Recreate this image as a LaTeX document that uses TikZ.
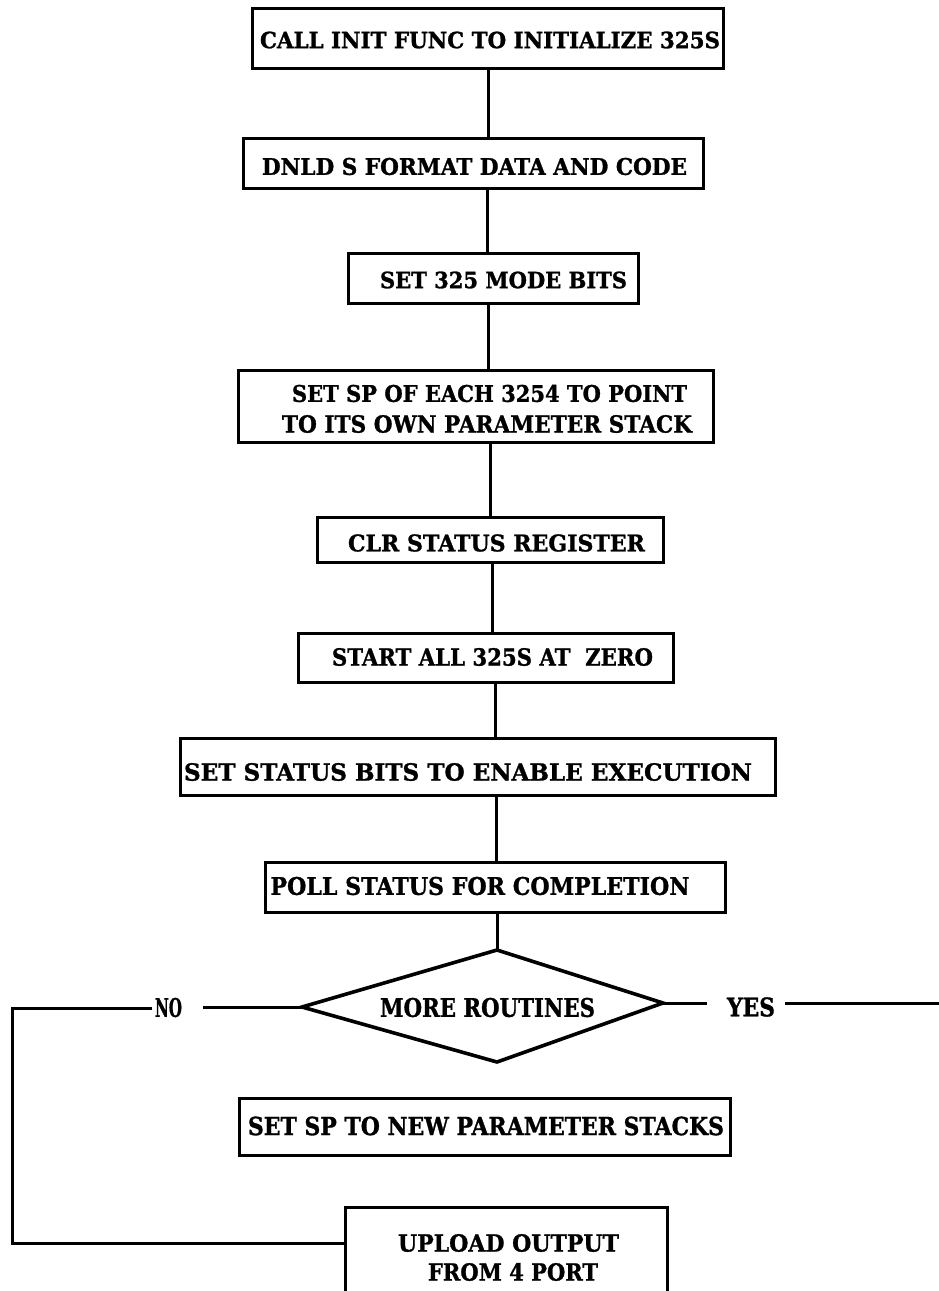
\documentclass[tikz,border=0pt]{standalone}
\usepackage{fontspec}
\usepackage{graphicx}
\setmainfont{DejaVu Serif}
\newfontfamily\heavy{DejaVu Serif Bold}[FakeBold=1.2]
\newcommand{\fittxt}[3]{\resizebox{#1pt}{#2pt}{\heavy #3}}
\begin{document}
\begin{tikzpicture}[x=1pt,y=-1pt,
  box/.style={draw, line width=3pt, inner sep=0pt},
  lbl/.style={inner sep=0pt},
  conn/.style={line width=3pt},
  dia/.style={line width=3.6pt, line join=miter}]
\useasboundingbox (0,0) rectangle (938,1291);
% boxes
\node[box, minimum width=471pt, minimum height=60pt] (b1) at (487.5,38) {};
\node[box, minimum width=460pt, minimum height=50pt] (b2) at (473,163) {};
\node[box, minimum width=290pt, minimum height=50pt] (b3) at (493,278) {};
\node[box, minimum width=475pt, minimum height=72pt] (b4) at (475.5,406) {};
\node[box, minimum width=346pt, minimum height=45pt] (b5) at (490,539.5) {};
\node[box, minimum width=375pt, minimum height=49pt] (b6) at (485.5,657.5) {};
\node[box, minimum width=595pt, minimum height=57pt] (b7) at (477.5,766.5) {};
\node[box, minimum width=460pt, minimum height=50pt] (b8) at (495,887) {};
\node[box, minimum width=491pt, minimum height=57pt] (b9) at (484.5,1126.5) {};
\node[inner sep=0pt, minimum width=321pt, minimum height=83pt] (b10) at (506.5,1249.5) {};
\draw[line width=3pt] (b10.south west) -- (b10.north west) -- (b10.north east) -- (b10.south east);
% texts
\node[lbl] (t1) at (490,40) {\fittxt{460}{16.6}{CALL INIT FUNC TO INITIALIZE 325S}};
\node[lbl] (t2) at (474.5,166.5) {\fittxt{425}{17}{DNLD S FORMAT DATA AND CODE}};
\node[lbl] (t3) at (503.5,280) {\fittxt{247}{16.6}{SET 325 MODE BITS}};
\node[lbl] (t4a) at (489.5,393.5) {\fittxt{395}{17}{SET SP OF EACH 3254 TO POINT}};
\node[lbl] (t4b) at (487,424) {\fittxt{410}{17.5}{TO ITS OWN PARAMETER STACK}};
\node[lbl] (t5) at (496.5,543) {\fittxt{297}{17}{CLR STATUS REGISTER}};
\node[lbl] (t6) at (492.5,657) {\fittxt{321}{17.5}{START ALL 325S AT\ \ ZERO}};
\node[lbl] (t7) at (468,772) {\fittxt{568}{17.5}{SET STATUS BITS TO ENABLE EXECUTION}};
\node[lbl] (t8) at (480,886) {\fittxt{419}{18}{POLL STATUS FOR COMPLETION}};
\node[lbl] (t9) at (486,1126) {\fittxt{476}{18.5}{SET SP TO NEW PARAMETER STACKS}};
\node[lbl] (t10a) at (508.5,1243) {\fittxt{221}{17.5}{UPLOAD OUTPUT}};
\node[lbl] (t10b) at (513,1272) {\fittxt{170}{17.5}{FROM 4 PORT}};
% diamond
\coordinate (dt) at (497,950);
\coordinate (dl) at (302,1007);
\coordinate (dr) at (663,1003);
\coordinate (db) at (497,1062);
\draw[dia] (dt) -- (dr) -- (db) -- (dl) -- cycle;
\node[lbl] (td) at (487.5,1007.5) {\fittxt{215}{19}{MORE ROUTINES}};
\node[lbl] (no) at (168.5,1007.5) {\fittxt{27}{19}{NO}};
\node[lbl] (yes) at (751,1007) {\fittxt{48}{19}{YES}};
% connectors
\coordinate (x1) at (488,0);
\coordinate (x2) at (487,0);
\coordinate (x3) at (488,0);
\coordinate (x4) at (490,0);
\coordinate (x5) at (492,0);
\coordinate (x6) at (495,0);
\coordinate (x7) at (496,0);
\coordinate (x8) at (497,0);
\draw[conn] (x1 |- b1.south) -- (x1 |- b2.north);
\draw[conn] (x2 |- b2.south) -- (x2 |- b3.north);
\draw[conn] (x3 |- b3.south) -- (x3 |- b4.north);
\draw[conn] (x4 |- b4.south) -- (x4 |- b5.north);
\draw[conn] (x5 |- b5.south) -- (x5 |- b6.north);
\draw[conn] (x6 |- b6.south) -- (x6 |- b7.north);
\draw[conn] (x7 |- b7.south) -- (x7 |- b8.north);
\draw[conn] (x8 |- b8.south) -- (dt);
% yes branch
\coordinate (yl) at (707,1003);
\coordinate (yr1) at (785,1003);
\coordinate (yr2) at (940,1003);
\draw[conn] (dr) -- (yl);
\draw[conn] (yr1) -- (yr2);
% no branch
\coordinate (noR) at (203,1007);
\coordinate (noL) at (152,1008);
\coordinate (lc1) at (12,1008);
\coordinate (lc2) at (12,1243);
\draw[conn] (dl) -- (noR);
\draw[conn, line join=miter] (noL) -- (lc1) -- (lc2) -- (lc2 -| b10.west);
\end{tikzpicture}
\end{document}
